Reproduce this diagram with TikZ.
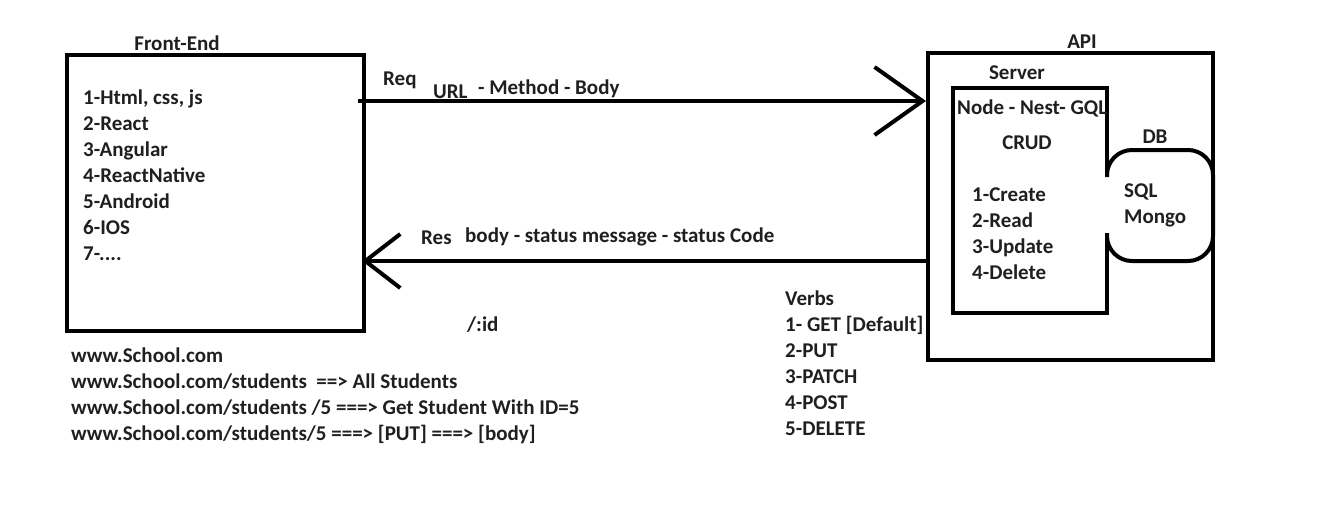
\documentclass[tikz,border=0pt]{standalone}
\usepackage{fontspec}
\setmainfont{Carlito}
\usetikzlibrary{arrows.meta}
\begin{document}
\begin{tikzpicture}[x=1pt,y=-1pt,
   box/.style={draw,line width=4pt,inner sep=0pt},
   lbl/.style={font=\fontsize{21}{26}\selectfont\bfseries,inner sep=0pt,text=black!88},
   list/.style={lbl,align=left,anchor=west},
   link/.style={line width=4pt}]
   \useasboundingbox (0,0) rectangle (1343,504);
   % Front-End
   \node[box,minimum width=297pt,minimum height=276pt] (fe) at (215.5,193) {};
   \node[lbl] (feTitle) at (177,43) {Front-End};
   \node[list] (feList) at (83,175.5) {1-Html, css, js\\2-React\\3-Angular\\4-ReactNative\\5-Android\\6-IOS\\7-....};
   \node[list] (urls) at (71,396) {www.School.com\\www.School.com/students\ \ ==> All Students\\www.School.com/students /5 ===> Get Student With ID=5\\www.School.com/students/5 ===> [PUT] ===> [body]};
   % API
   \node[box,minimum width=285pt,minimum height=307pt] (api) at (1070.5,206.5) {};
   \node[lbl] (apiTitle) at (1082,42) {API};
   % Server and DB
   \draw[link] (1107,177) -- (1107,88) -- (953,88) -- (953,313) -- (1107,313) -- (1107,233);
   \draw[link,rounded corners=25pt] (1107,177) -- (1107,150) -- (1213,150) -- (1213,261) -- (1107,261) -- (1107,233);
   \node[lbl] (srvTitle) at (1017,73) {Server};
   \node[list] (stack) at (957,108) {Node - Nest- GQL};
   \node[lbl] (crud) at (1027,143) {CRUD};
   \node[list] (crudList) at (972,234) {1-Create\\2-Read\\3-Update\\4-Delete};
   \node[lbl] (dbTitle) at (1155,137) {DB};
   \node[list] (dbList) at (1124,205) {SQL\\Mongo};
   % Arrows
   \coordinate (reqFrom) at (358,101);
   \coordinate (reqTo) at (api.west |- reqFrom);
   \coordinate (resTo) at (362,261);
   \coordinate (resFrom) at (api.west |- resTo);
   \draw[link,-{Straight Barb[length=48pt,width=68pt]}] (reqFrom) -- (reqTo);
   \draw[link,-{Straight Barb[length=35pt,width=54pt]}] (resFrom) -- (resTo);
   \node[list] (req) at (383,80) {Req};
   \node[list] (url) at (433,92) {URL};
   \node[list] (reqParts) at (478,89) {- Method - Body};
   \node[list] (res) at (421,238) {Res};
   \node[list] (resParts) at (465,237) {body - status message - status Code};
   % Verbs
   \node[list] (id) at (467,325) {/:id};
   \node[list] (verbs) at (785,363.5) {Verbs\\1- GET [Default]\\2-PUT\\3-PATCH\\4-POST\\5-DELETE};
\end{tikzpicture}
\end{document}
